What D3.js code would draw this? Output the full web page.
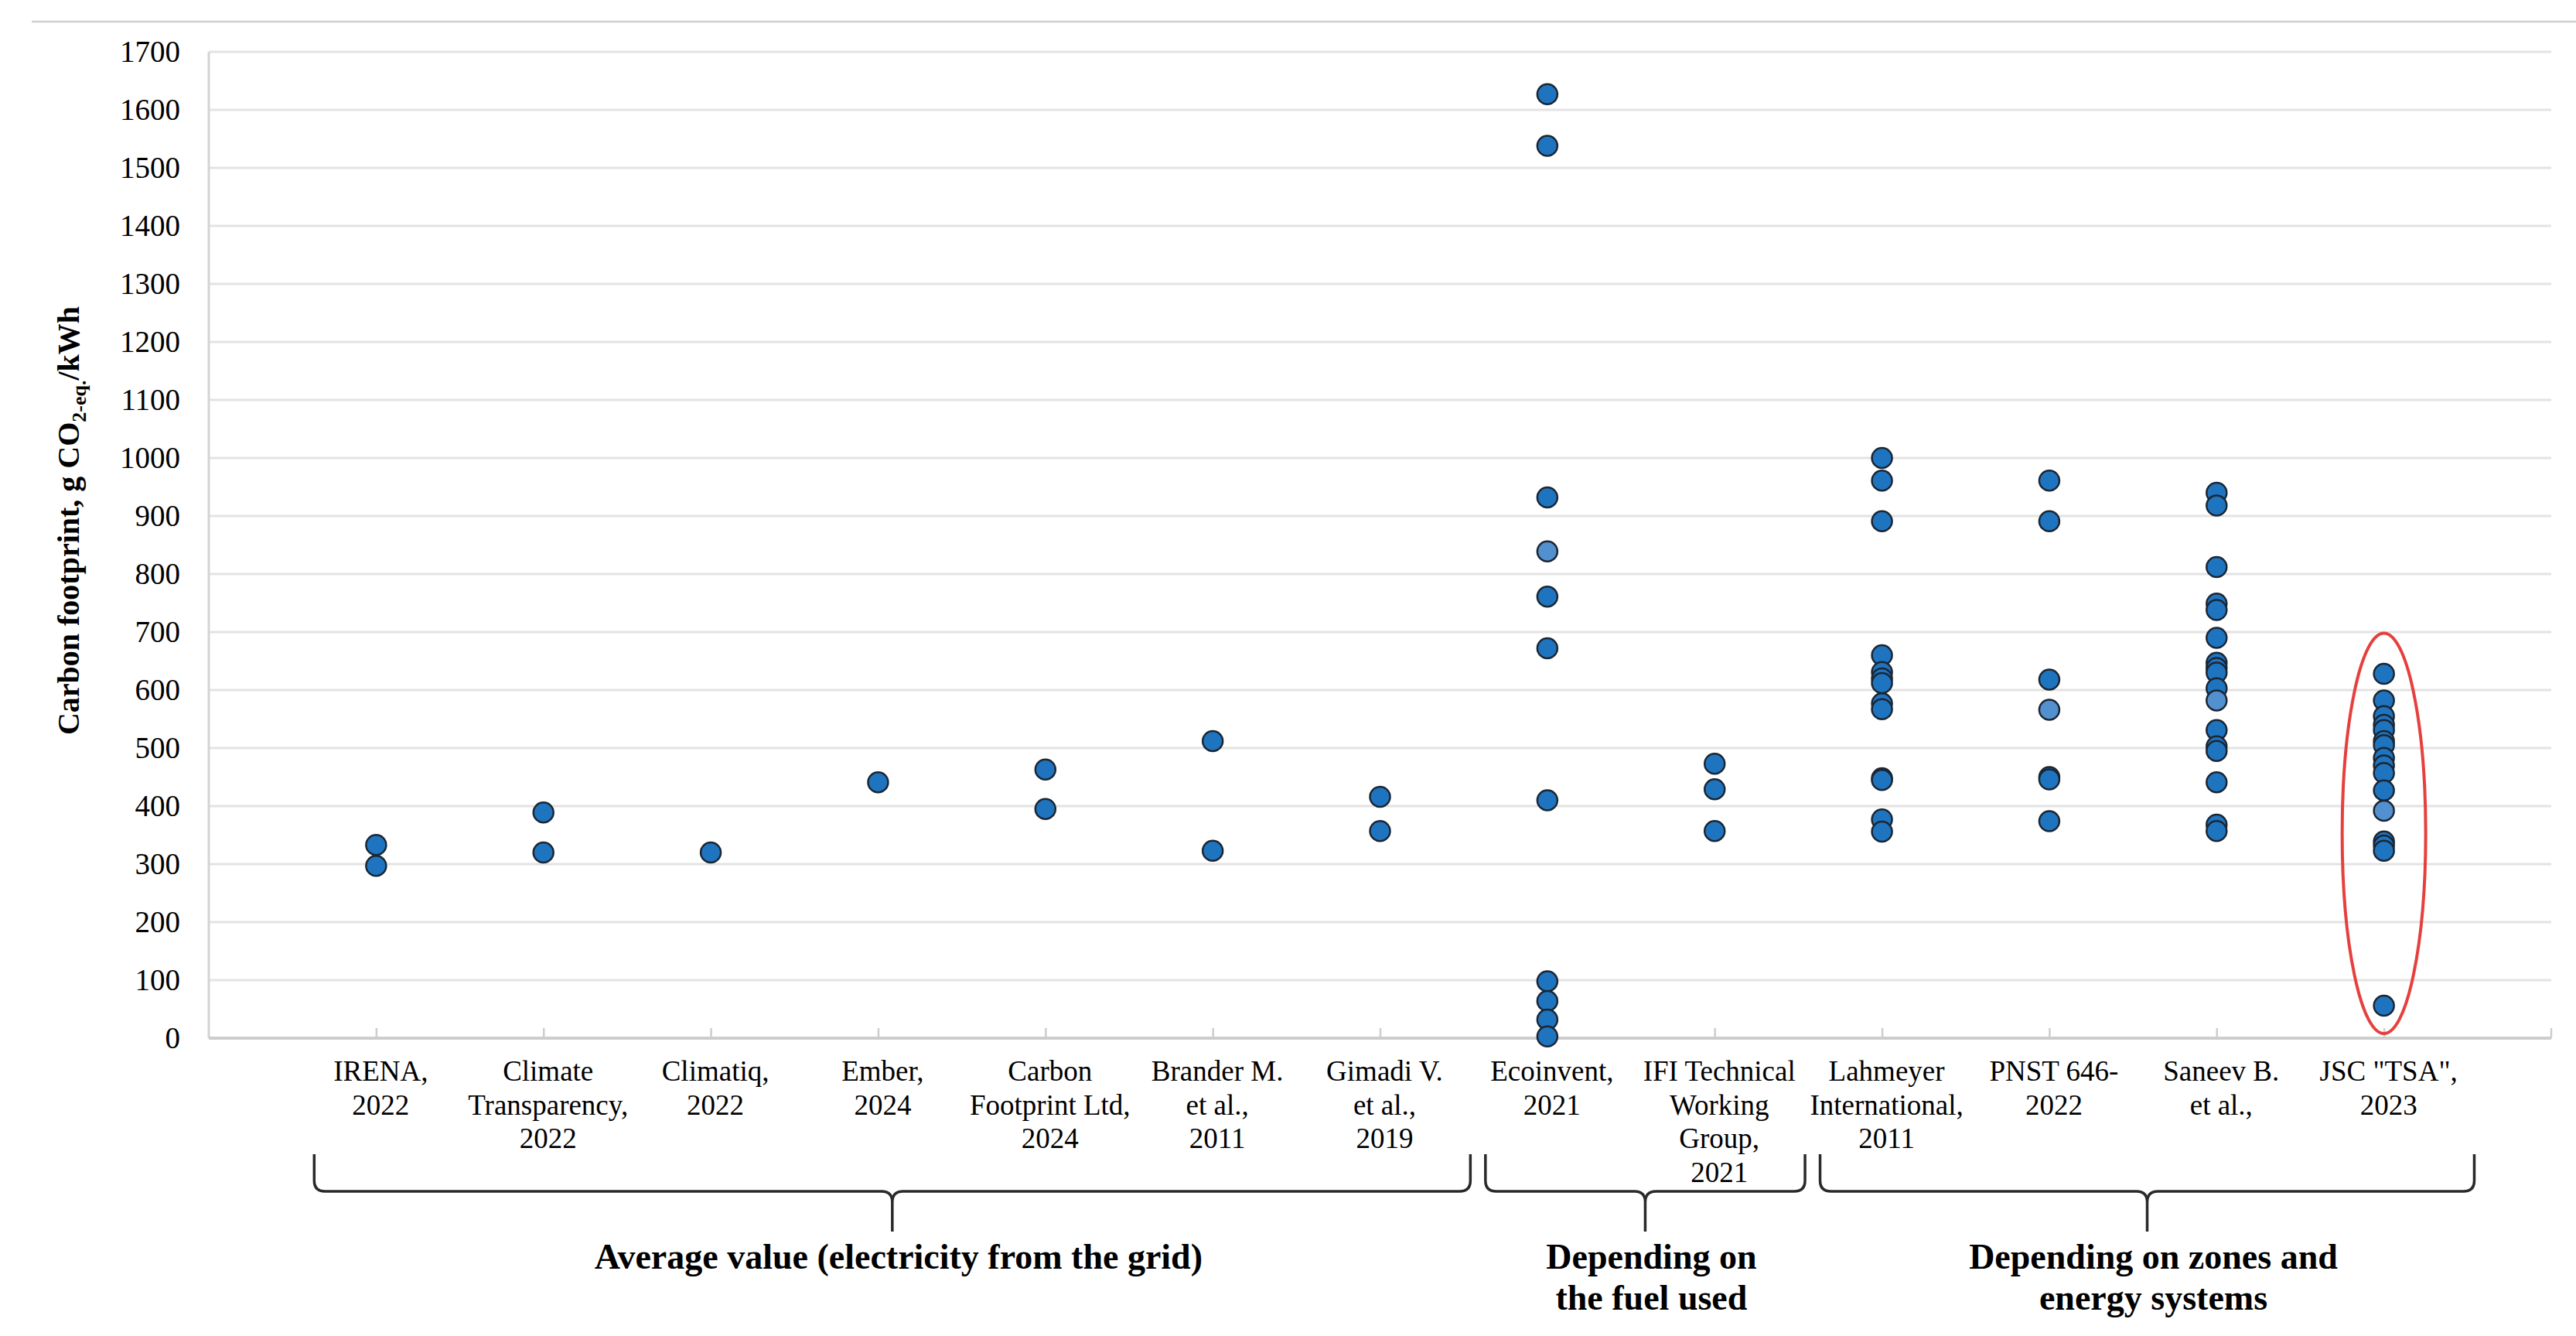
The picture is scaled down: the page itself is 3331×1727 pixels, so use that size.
<!DOCTYPE html>
<html>
<head>
<meta charset="utf-8">
<script src="https://cdn.jsdelivr.net/npm/d3@7"></script>
<style>
  html, body { margin: 0; padding: 0; background: #ffffff; }
  svg { display: block; }
  text { font-family: "Liberation Serif", "Times New Roman", serif; fill: #000; }
</style>
</head>
<body>
<svg id="chart" width="3331" height="1727"></svg>
<script>
// ---------- DATA ----------
const categories = [
  "IRENA, 2022", "Climate Transparency, 2022", "Climatiq, 2022", "Ember, 2024",
  "Carbon Footprint Ltd, 2024", "Brander M. et al., 2011", "Gimadi V. et al., 2019",
  "Ecoinvent, 2021", "IFI Technical Working Group, 2021", "Lahmeyer International, 2011",
  "PNST 646-2022", "Saneev B. et al.,", "JSC \"TSA\", 2023"
];
const categoryLabelLines = [
  ["IRENA,", "2022"],
  ["Climate", "Transparency,", "2022"],
  ["Climatiq,", "2022"],
  ["Ember,", "2024"],
  ["Carbon", "Footprint Ltd,", "2024"],
  ["Brander M.", "et al.,", "2011"],
  ["Gimadi V.", "et al.,", "2019"],
  ["Ecoinvent,", "2021"],
  ["IFI Technical", "Working", "Group,", "2021"],
  ["Lahmeyer", "International,", "2011"],
  ["PNST 646-", "2022"],
  ["Saneev B.", "et al.,"],
  ["JSC \"TSA\",", "2023"]
];
// dark-blue points per category (g CO2-eq./kWh)
const seriesValues = [
  [333, 297],
  [389, 320],
  [320],
  [441],
  [463, 395],
  [512, 323],
  [416, 357],
  [1627, 1538, 932, 761, 672, 410, 98, 64, 32, 3],
  [473, 429, 357],
  [1000, 961, 891, 660, 631, 620, 612, 577, 567, 448, 445, 377, 356],
  [961, 891, 618, 450, 446, 374],
  [940, 918, 812, 749, 738, 690, 647, 638, 630, 603, 531, 503, 495, 441, 368, 357],
  [628, 582, 555, 540, 531, 512, 505, 483, 470, 457, 427, 339, 332, 323, 56]
];
// lighter-blue points per category
const lightValues = [
  [], [], [], [], [], [], [],
  [839],
  [],
  [],
  [566],
  [582],
  [392]
];
const yTicks = [0,100,200,300,400,500,600,700,800,900,1000,1100,1200,1300,1400,1500,1600,1700];
const groups = [
  { first: 0, last: 6,  lines: ["Average value (electricity from the grid)"] },
  { first: 7, last: 8,  lines: ["Depending on", "the fuel used"] },
  { first: 9, last: 12, lines: ["Depending on zones and", "energy systems"] }
];
// highlighted range (ellipse) for JSC "TSA"
const highlight = { category: 12, top: 698, bottom: 8 };

// ---------- LAYOUT ----------
const W = 3331, H = 1727;
const plot = { left: 270, right: 3299, top: 67, bottom: 1342 };
const svg = d3.select("#chart");
svg.append("rect").attr("width", W).attr("height", H).attr("fill", "#fff");

const y = d3.scaleLinear().domain([0, 1700]).range([plot.bottom, plot.top]);
const x = d3.scalePoint().domain(categories).range([plot.left, plot.right]).padding(1);
const step = x.step();

// top border line
svg.append("line").attr("x1", 41).attr("x2", W).attr("y1", 28).attr("y2", 28)
  .attr("stroke", "#cfcfcf").attr("stroke-width", 2.5);

// gridlines
svg.append("g").selectAll("line").data(yTicks.filter(d => d > 0)).join("line")
  .attr("x1", plot.left).attr("x2", plot.right)
  .attr("y1", d => y(d)).attr("y2", d => y(d))
  .attr("stroke", "#e3e3e3").attr("stroke-width", 3);

// y axis line
svg.append("line").attr("x1", plot.left).attr("x2", plot.left)
  .attr("y1", plot.top).attr("y2", plot.bottom)
  .attr("stroke", "#d4d4d4").attr("stroke-width", 3);

// y axis labels
const yAxis = d3.axisLeft(y).tickValues(yTicks).tickSize(0).tickPadding(37).tickFormat(d3.format("d"));
const gy = svg.append("g").attr("transform", `translate(${plot.left},0)`).call(yAxis);
gy.select(".domain").remove();
gy.selectAll("text").style("font-family", '"Liberation Serif", "Times New Roman", serif')
  .style("font-size", "39px").attr("fill", "#000");

// x axis (baseline + inward ticks)
const xAxis = d3.axisBottom(x).tickSize(-13).tickFormat("");
const gx = svg.append("g").attr("transform", `translate(0,${plot.bottom})`).call(xAxis);
gx.select(".domain").attr("stroke", "#cdcdcd").attr("stroke-width", 4).attr("d", `M${plot.left},0H${plot.right}`);
gx.selectAll(".tick line").attr("stroke", "#cdcdcd").attr("stroke-width", 2.5);
gx.append("line").attr("x1", plot.right).attr("x2", plot.right).attr("y1", 0).attr("y2", -13)
  .attr("stroke", "#cdcdcd").attr("stroke-width", 2.5);

// category labels
const labelFont = 37, labelLine = 43.5, labelTop = 1397;
const gl = svg.append("g");
categoryLabelLines.forEach((lines, i) => {
  const t = gl.append("text").attr("text-anchor", "middle")
    .attr("x", x(categories[i]) + 6).attr("y", labelTop)
    .style("font-size", labelFont + "px");
  lines.forEach((ln, j) => {
    t.append("tspan").attr("x", x(categories[i]) + 6).attr("y", labelTop + j * labelLine).text(ln);
  });
});

// points
const pts = [];
seriesValues.forEach((vals, i) => vals.forEach(v => pts.push({ c: categories[i], v, light: false })));
lightValues.forEach((vals, i) => vals.forEach(v => pts.push({ c: categories[i], v, light: true })));
svg.append("g").selectAll("circle").data(pts).join("circle")
  .attr("cx", d => x(d.c)).attr("cy", d => y(d.v)).attr("r", 13)
  .attr("fill", d => d.light ? "#5390cf" : "#1f74c0")
  .attr("stroke", "#1b2633").attr("stroke-width", 2.5);

// highlight ellipse
const ey1 = y(highlight.top), ey2 = y(highlight.bottom);
svg.append("ellipse")
  .attr("cx", x(categories[highlight.category])).attr("cy", (ey1 + ey2) / 2)
  .attr("rx", 54).attr("ry", (ey2 - ey1) / 2)
  .attr("fill", "none").attr("stroke", "#e5403e").attr("stroke-width", 4);

// braces
const bTop = 1492, bMid = 1540, bTip = 1592, rr = 14;
const gb = svg.append("g");
groups.forEach(g => {
  const L = x(categories[g.first]) - 0.37 * step;
  const R = x(categories[g.last]) + 0.54 * step;
  const M = (L + R) / 2;
  const p = `M${L},${bTop} L${L},${bMid - rr} Q${L},${bMid} ${L + rr},${bMid} L${M - rr},${bMid} ` +
            `Q${M},${bMid} ${M},${bMid + rr} L${M},${bTip} ` +
            `M${M},${bMid + rr} Q${M},${bMid} ${M + rr},${bMid} L${R - rr},${bMid} ` +
            `Q${R},${bMid} ${R},${bMid - rr} L${R},${bTop}`;
  gb.append("path").attr("d", p).attr("fill", "none").attr("stroke", "#2a2a2a").attr("stroke-width", 3.5);
  const t = gb.append("text").attr("text-anchor", "middle").style("font-weight", "bold").style("font-size", "46px");
  g.lines.forEach((ln, j) => {
    t.append("tspan").attr("x", M + 8).attr("y", 1640 + j * 53).text(ln);
  });
});

// y axis title
const yt = svg.append("text").attr("transform", "translate(102,673) rotate(-90)")
  .attr("text-anchor", "middle").style("font-weight", "bold").style("font-size", "40px");
yt.append("tspan").text("Carbon footprint, g CO");
yt.append("tspan").text("2-eq.").style("font-size", "26px").attr("dy", 9);
yt.append("tspan").text("/kWh").attr("dy", -9);
</script>
</body>
</html>
